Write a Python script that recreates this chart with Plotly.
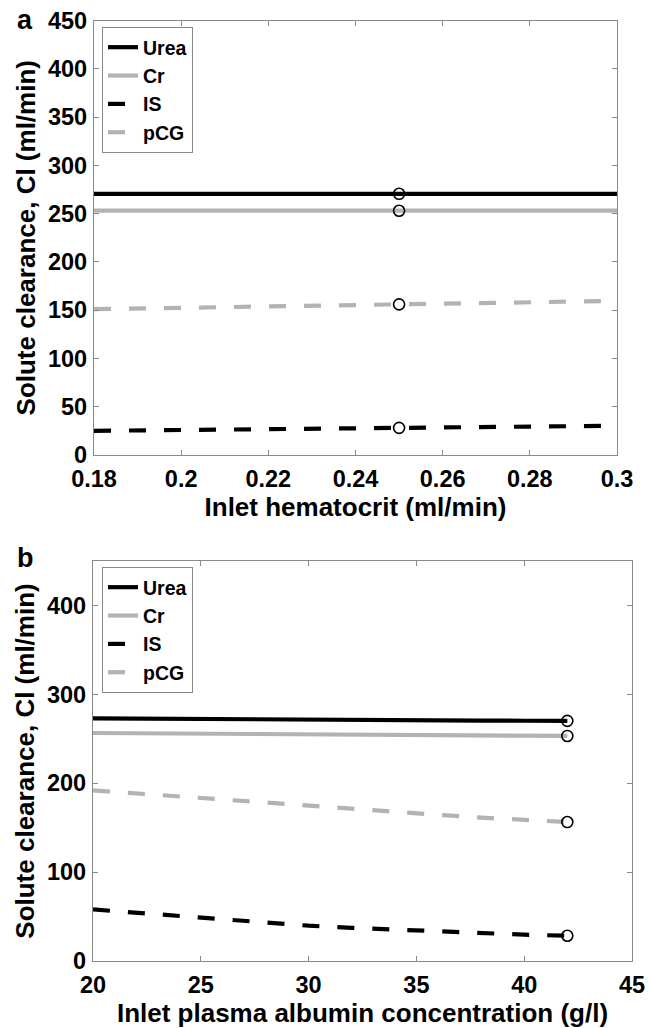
import plotly.graph_objects as go

# ---------------- data: panel a (inlet hematocrit) ----------------
hct = [0.18, 0.19, 0.20, 0.21, 0.22, 0.23, 0.24, 0.25, 0.26, 0.27, 0.28, 0.29, 0.30]
a_urea = [270.5] * 13
a_cr = [253.0] * 13
a_is = [25.0, 25.4, 25.9, 26.3, 26.8, 27.2, 27.6, 28.1, 28.5, 29.0, 29.4, 29.9, 30.3]
a_pcg = [151.0, 151.7, 152.4, 153.1, 153.8, 154.5, 155.3, 156.0, 156.7, 157.4, 158.1, 158.9, 159.6]
a_ref_x = [0.25, 0.25, 0.25, 0.25]
a_ref_y = [270.5, 253.0, 28.1, 156.0]
a_xticks = [0.18, 0.20, 0.22, 0.24, 0.26, 0.28, 0.30]
a_xlabels = ["0.18", "0.2", "0.22", "0.24", "0.26", "0.28", "0.3"]
a_yticks = [0, 50, 100, 150, 200, 250, 300, 350, 400, 450]

# ---------------- data: panel b (inlet plasma albumin) ----------------
alb = [20, 22, 24, 26, 28, 30, 32, 34, 36, 38, 40, 42]
b_urea = [273.0, 272.6, 272.3, 272.0, 271.7, 271.4, 271.1, 270.9, 270.7, 270.5, 270.3, 270.1]
b_cr = [256.5, 256.2, 255.9, 255.6, 255.3, 255.0, 254.7, 254.4, 254.1, 253.8, 253.5, 253.2]
b_is = [58.0, 54.4, 49.8, 46.2, 42.8, 39.7, 37.3, 35.2, 33.2, 31.2, 29.6, 28.4]
b_pcg = [192.0, 188.5, 184.5, 181.0, 177.5, 174.2, 171.2, 168.0, 164.5, 161.3, 158.8, 156.3]
b_ref_x = [42, 42, 42, 42]
b_ref_y = [270.1, 253.2, 28.4, 156.3]
b_xticks = [20, 25, 30, 35, 40, 45]
b_yticks = [0, 100, 200, 300, 400]

series_names = ["Urea", "Cr", "IS", "pCG"]

BLACK = "#000000"
GRAY = "#b3b3b3"
AXC = "#8a8a8a"
FONT = "Liberation Sans"
DASH = "17px,18px"

styles = {
    "Urea": dict(color=BLACK, dash="solid"),
    "Cr": dict(color=GRAY, dash="solid"),
    "IS": dict(color=BLACK, dash=DASH),
    "pCG": dict(color=GRAY, dash=DASH),
}

fig = go.Figure()

def add_panel(x, ys, refx, refy, xa, ya, legend):
    for name, y in zip(series_names, ys):
        st = styles[name]
        fig.add_trace(go.Scatter(
            x=x, y=y, mode="lines", name=name,
            line=dict(color=st["color"], width=4.2, dash=st["dash"]),
            xaxis=xa, yaxis=ya, legend=legend, showlegend=True,
        ))
    fig.add_trace(go.Scatter(
        x=refx, y=refy, mode="markers", showlegend=False,
        marker=dict(symbol="circle-open", size=11, color=BLACK, line=dict(width=1.6, color=BLACK)),
        xaxis=xa, yaxis=ya,
    ))

add_panel(hct, [a_urea, a_cr, a_is, a_pcg], a_ref_x, a_ref_y, "x", "y", "legend")
add_panel(alb, [b_urea, b_cr, b_is, b_pcg], b_ref_x, b_ref_y, "x2", "y2", "legend2")

# page body margin is removed (see post_script), so the figure fills the window
W, H = 650, 1028
def fx(px):
    return px / W
def fy(py):
    return 1 - py / H

tickfont = dict(family=FONT, size=23.5, color=BLACK, weight="bold")
titlefont = dict(family=FONT, size=26, color=BLACK, weight="bold")
legfont = dict(family=FONT, size=19.5, color=BLACK, weight="bold")

axis_common = dict(
    showline=True, linecolor=AXC, linewidth=1.2, mirror="ticks",
    ticks="inside", ticklen=5, tickwidth=1, tickcolor=AXC,
    showgrid=False, zeroline=False, tickfont=tickfont, automargin=False,
    ticklabeloverflow="allow",
)

ytitle = "Solute clearance, Cl (ml/min)"

fig.update_layout(
    template="none",
    width=W, height=H, autosize=False,
    margin=dict(l=0, r=0, t=0, b=0, pad=0),
    paper_bgcolor="white", plot_bgcolor="white",
    showlegend=True,
    xaxis=dict(domain=[fx(94), fx(617)], range=[0.18, 0.30], tickmode="array",
               tickvals=a_xticks, ticktext=a_xlabels, anchor="y",
               title=dict(text="Inlet hematocrit (ml/min)", font=titlefont, standoff=6),
               ticklabelstandoff=3, **axis_common),
    yaxis=dict(domain=[fy(455), fy(20.5)], range=[0, 450], tickmode="array",
               tickvals=a_yticks, anchor="x",
               title=dict(text=ytitle, font=titlefont, standoff=4),
               ticklabelstandoff=1, **axis_common),
    xaxis2=dict(domain=[fx(93), fx(632)], range=[20, 45], tickmode="array",
                tickvals=b_xticks, anchor="y2",
                title=dict(text="Inlet plasma albumin concentration (g/l)", font=titlefont, standoff=6),
                ticklabelstandoff=3, **axis_common),
    yaxis2=dict(domain=[fy(961), fy(561)], range=[0, 450], tickmode="array",
                tickvals=b_yticks, anchor="x2",
                title=dict(text=ytitle, font=titlefont, standoff=4),
                ticklabelstandoff=1, **axis_common),
    legend=dict(x=fx(102), y=fy(27), xanchor="left", yanchor="top",
                bgcolor="white", bordercolor=AXC, borderwidth=1,
                font=legfont, tracegroupgap=0, itemwidth=30),
    legend2=dict(x=fx(102), y=fy(567), xanchor="left", yanchor="top",
                 bgcolor="white", bordercolor=AXC, borderwidth=1,
                 font=legfont, tracegroupgap=0, itemwidth=30),
    annotations=[
        dict(text="a", x=fx(25), y=fy(20), xref="paper", yref="paper",
             xanchor="center", yanchor="middle", showarrow=False,
             font=dict(family=FONT, size=27, color=BLACK, weight="bold")),
        dict(text="b", x=fx(25), y=fy(558), xref="paper", yref="paper",
             xanchor="center", yanchor="middle", showarrow=False,
             font=dict(family=FONT, size=27, color=BLACK, weight="bold")),
    ],
)

fig.write_html("out.html", config={"displayModeBar": False},
               post_script="document.body.style.margin='0';document.body.style.overflow='hidden';")
